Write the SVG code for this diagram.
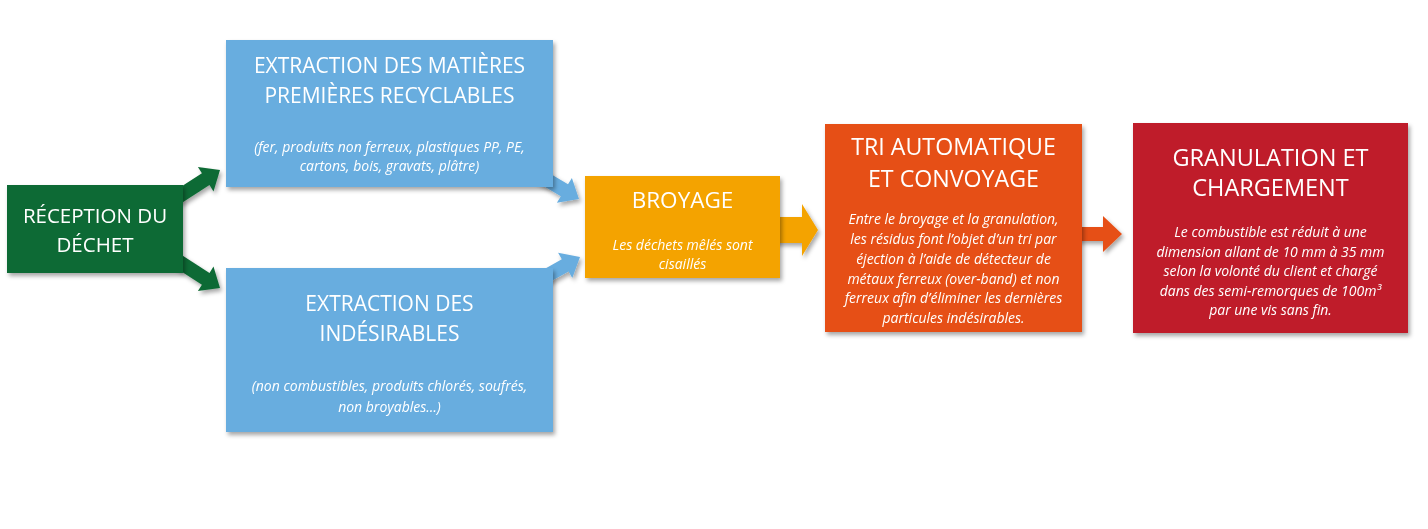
<svg xmlns="http://www.w3.org/2000/svg" width="1428" height="529" viewBox="0 0 1428 529">
<defs>
<filter id="sh" x="-10%" y="-10%" width="130%" height="130%">
<feDropShadow dx="2" dy="3" stdDeviation="2" flood-color="#000" flood-opacity="0.35"/>
</filter>
<style>
.t{font-family:"Open Sans","Liberation Sans",sans-serif;fill:#fff;text-anchor:middle}
.ti{font-size:21px}
.d{font-family:"Open Sans","Liberation Sans",sans-serif;fill:#fff;text-anchor:middle;font-style:italic;font-size:14px}
.g{fill:#0f6b35}
.b{fill:#68addf}
.o{fill:#f4a300}
.r{fill:#e65015}
.c{fill:#bf1f2b}
</style>
</defs>
<rect width="1428" height="529" fill="#fff"/>
<g id="connectors" filter="url(#sh)">
<polygon class="g" points="172.5,192.2 201.9,173.3 197.9,167 220,170 213.5,191.4 209.5,185.1 180.1,204"/>
<polygon class="g" points="172.5,265.8 201.9,284.7 197.9,291 220,288 213.5,266.6 209.5,272.9 180.1,254"/>
<polygon class="b" points="542.3,168.9 568,184.3 571.9,177.9 579,199 556.9,202.7 560.8,196.3 535.1,180.9"/>
<polygon class="b" points="535.7,273.9 561.8,259.2 558.1,252.7 580,257 572.3,277.9 568.6,271.4 542.5,286.1"/>
<polygon class="o" points="770,217 802,217 802,204 818,230 802,256 802,243 770,243"/>
<polygon class="r" points="1075,227 1103,227 1103,216 1122,234 1103,252 1103,241 1075,241"/>
</g>
<g id="reception" filter="url(#sh)">
<rect class="g" x="7" y="185" width="176" height="88"/>
<text class="t" x="95" y="223" font-size="20.5">RÉCEPTION DU</text>
<text class="t" x="95" y="252" font-size="20.5">DÉCHET</text>
</g>
<g id="extraction-matieres" filter="url(#sh)">
<rect class="b" x="226" y="40" width="327" height="147"/>
<text class="t ti" x="389.5" y="73">EXTRACTION DES MATIÈRES</text>
<text class="t ti" x="389.5" y="103">PREMIÈRES RECYCLABLES</text>
<text class="d" x="389.5" y="152">(fer, produits non ferreux, plastiques PP, PE,</text>
<text class="d" x="389.5" y="171">cartons, bois, gravats, plâtre)</text>
</g>
<g id="extraction-indesirables" filter="url(#sh)">
<rect class="b" x="226" y="268" width="327" height="164"/>
<text class="t ti" x="389.5" y="311">EXTRACTION DES</text>
<text class="t ti" x="389.5" y="341">INDÉSIRABLES</text>
<text class="d" x="389.5" y="391">(non combustibles, produits chlorés, soufrés,</text>
<text class="d" x="389.5" y="412">non broyables…)</text>
</g>
<g id="broyage" filter="url(#sh)">
<rect class="o" x="585" y="176" width="195" height="102"/>
<text class="t" x="682.5" y="208" font-size="22.5">BROYAGE</text>
<text class="d" x="682.5" y="250">Les déchets mêlés sont</text>
<text class="d" x="682.5" y="269">cisaillés</text>
</g>
<g id="tri" filter="url(#sh)">
<rect class="r" x="825" y="124" width="257" height="208"/>
<text class="t" x="953.5" y="155" font-size="23.2">TRI AUTOMATIQUE</text>
<text class="t" x="953.5" y="187" font-size="23.2">ET CONVOYAGE</text>
<text class="d" x="953.5" y="224">Entre le broyage et la granulation,</text>
<text class="d" x="953.5" y="244">les résidus font l’objet d’un tri par</text>
<text class="d" x="953.5" y="264">éjection à l’aide de détecteur de</text>
<text class="d" x="953.5" y="284">métaux ferreux (over-band) et non</text>
<text class="d" x="953.5" y="303">ferreux afin d’éliminer les dernières</text>
<text class="d" x="953.5" y="323">particules indésirables.</text>
</g>
<g id="granulation" filter="url(#sh)">
<rect class="c" x="1133" y="123" width="275" height="210"/>
<text class="t" x="1270.5" y="166" font-size="23.5">GRANULATION ET</text>
<text class="t" x="1270.5" y="196" font-size="23.5">CHARGEMENT</text>
<text class="d" x="1270.5" y="237">Le combustible est réduit à une</text>
<text class="d" x="1270.5" y="256.5">dimension allant de 10 mm à 35 mm</text>
<text class="d" x="1270.5" y="276">selon la volonté du client et chargé</text>
<text class="d" x="1270.5" y="295.5">dans des semi-remorques de 100m³</text>
<text class="d" x="1270.5" y="315">par une vis sans fin.</text>
</g>
</svg>
